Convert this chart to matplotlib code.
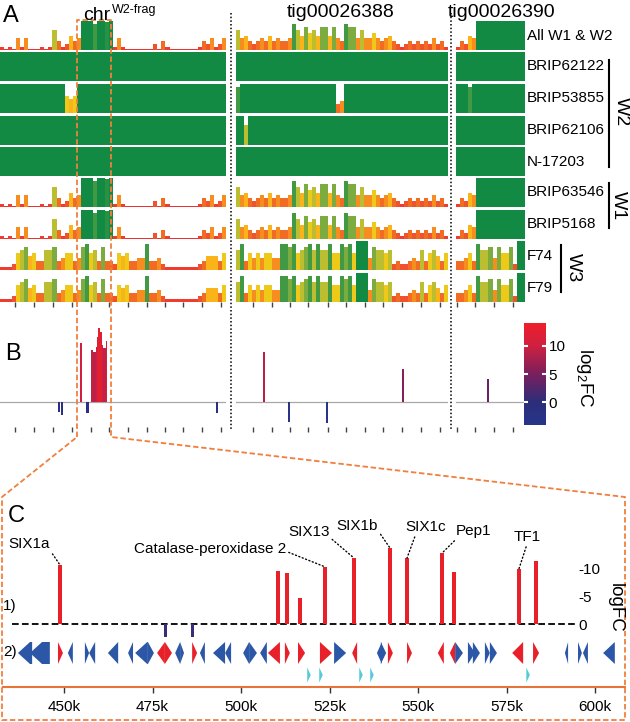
import numpy as np
import matplotlib
matplotlib.use('Agg')
import matplotlib.pyplot as plt
from matplotlib.colors import LinearSegmentedColormap, Normalize
from matplotlib.patches import Polygon
from matplotlib.colorbar import ColorbarBase

plt.rcParams['font.family'] = ['Liberation Sans', 'DejaVu Sans']
plt.rcParams['mathtext.fontset'] = 'custom'
plt.rcParams['mathtext.rm'] = 'Liberation Sans'

W, H = 630, 722

# ---------------- panel A: per-bin identity (0-10) ----------------
row_names = ['All W1 & W2', 'BRIP62122', 'BRIP53855', 'BRIP62106', 'N-17203',
             'BRIP63546', 'BRIP5168', 'F74', 'F79']
seg_names = ['chrW2-frag', 'tig00026388', 'tig00026390']
n_bins = [56, 53, 17]

# W1-like pattern (All W1 & W2, BRIP63546, BRIP5168)
w1_chr = [1, 0.5, 1, 0.5, 4, 1, 4, 0.5, 0.5, 0.5, 1, 0.5, 1, 7, 3, 1, 2, 5, 3, 4,
          10, 10, 10, 9, 10, 10, 9.5, 10,
          1, 4, 1, 0.5, 0.5, 0.5, 0.5, 0.5, 0.5, 0.5, 2, 0.5, 3, 1, 0.5, 0.5,
          0.5, 0.5, 0.5, 0.5, 0.5, 1, 3, 2, 4, 1, 2, 4]
w1_tig88 = [7, 4, 5, 3, 2, 3, 4, 3, 5, 3, 4, 3, 3, 4, 9, 7, 5, 8, 6, 7,
            5, 8, 8, 5, 8, 4, 3, 9, 8, 8, 4, 7, 4, 4, 6, 4, 3, 4, 5, 3,
            2, 1, 2, 3, 2, 3, 2, 3, 2, 4, 2, 3, 1]
w1_tig90 = [1, 3, 2, 5, 4, 10, 10, 10, 10, 10, 10, 10, 10, 10, 10, 10, 10]

# W3 pattern (F74, F79)
w3_chr = [1, 1, 1, 2, 6, 7, 8, 5, 6, 3, 3, 7, 7, 8, 3, 4, 6, 6, 3, 4,
          8, 9, 6, 7, 3, 8, 3, 3, 2, 6, 5, 6, 3, 3, 4, 4, 9, 3, 3, 4,
          2, 1, 1, 1, 1, 1, 1, 1, 1, 2, 3, 5, 5, 5, 3, 6]
w3_tig88 = [7, 9, 3, 6, 4, 6, 4, 6, 6, 4, 4, 9, 9, 8, 9, 6, 7, 8, 9, 7,
            9, 7, 7, 9, 6, 6, 9, 8, 9, 6, 10, 10, 10, 4, 8, 7, 7, 6, 7, 2,
            3, 2, 2, 3, 4, 3, 7, 3, 6, 7, 5, 3, 6]
w3_tig90 = [3, 3, 4, 6, 3, 9, 7, 7, 8, 4, 8, 6, 6, 8, 2, 10, 10]

# W2 isolates: full identity except these dips {bin: value}
dips_brip62122 = [{}, {}, {}]
dips_brip53855 = [{16: 6, 17: 5, 18: 6}, {0: 9, 25: 3, 26: 4}, {3: 9}]
dips_brip62106 = [{}, {2: 7}, {}]
dips_n17203 = [{}, {}, {}]

# tick marks (bin units) per segment
tick_chr = [3.7, 8.4, 13.1, 17.8, 22.5, 27.0, 31.7, 36.4, 40.8, 45.3, 50.0, 54.7]
tick_88 = [4.25, 9.0, 13.5, 18.0, 23.0, 27.5, 32.25, 36.75, 41.5, 46.25, 51.0]
tick_90 = [0.25, 4.7, 9.4, 14.0]

# ---------------- panel B: log2FC ----------------
fc_chr_pos = [14.62, 15.36, 20.07, 21.68, 22.80, 23.41, 23.91, 24.22, 24.59,
              25.03, 25.40, 25.89, 26.45, 53.77]
fc_chr_len = [0.3, 0.3, 0.37, 0.74, 0.5, 0.74, 0.25, 0.37, 0.37, 0.5, 0.25,
              0.74, 0.37, 0.3]
fc_chr_val = [-1.8, -2.3, 10.3, -2.0, 9.1, 8.8, 9.6, 11.4, 13.0, 12.3, 10.0,
              9.4, 10.7, -2.0]
fc_88_pos = [7.0, 13.25, 22.75, 41.75]
fc_88_val = [8.8, -3.5, -3.7, 5.8]
fc_90_pos = [7.9]
fc_90_val = [4.0]

# ---------------- panel C: zoom of chrW2-frag (kb) ----------------
c_bar_pos = [448.9, 478.8, 486.2, 510.5, 513.0, 516.7, 523.7, 531.9, 542.1,
             546.9, 556.8, 560.2, 578.5, 583.3]
c_bar_val = [10.7, -2.4, -2.4, 9.6, 9.3, 4.7, 10.4, 12.0, 13.8, 12.0, 12.9,
             9.5, 10.0, 11.5]
c_labels = ['SIX1a', 'Catalase-peroxidase 2', 'SIX13', 'SIX1b', 'SIX1c',
            'Pep1', 'TF1']
c_label_bar = [0, 6, 7, 8, 9, 10, 12]

gene_start = [437.0, 440.4, 448.3, 451.1, 455.9, 457.1, 462.4, 468.1, 470.1,
              473.7, 476.3, 478.5, 481.4, 482.8, 486.2, 488.4, 492.1, 495.5,
              500.6, 502.3, 505.4, 507.6, 512.4, 516.1, 522.3, 526.3, 531.4,
              538.4, 539.5, 541.5, 546.9, 555.6, 559.0, 560.5, 564.1, 565.5,
              568.9, 570.3, 576.6, 582.5, 591.5, 595.2, 596.6, 602.3]
gene_end = [441.0, 446.0, 449.7, 452.5, 457.1, 458.8, 465.3, 469.5, 473.7,
            475.4, 478.5, 480.5, 482.8, 483.9, 487.6, 489.8, 495.5, 497.2,
            502.3, 504.5, 507.3, 511.0, 513.8, 518.1, 525.7, 529.7, 532.8,
            539.8, 541.0, 542.9, 548.3, 557.3, 560.5, 562.7, 566.1, 567.5,
            570.3, 572.3, 579.7, 584.2, 592.4, 596.3, 598.0, 605.6]
gene_strand = [-1, -1, 1, -1, 1, -1, -1, -1, -1,
               1, -1, 1, -1, 1, 1, -1, -1, -1,
               -1, 1, -1, -1, 1, 1, 1, 1, -1,
               -1, 1, 1, 1, -1, -1, 1, 1, 1,
               1, 1, -1, 1, -1, 1, -1, -1]
gene_up = [0, 0, 1, 0, 0, 0, 0, 0, 0,
           0, 1, 1, 0, 0, 1, 0, 0, 0,
           0, 0, 0, 1, 1, 1, 1, 0, 1,
           0, 0, 1, 1, 1, 1, 0, 0, 0,
           0, 0, 1, 1, 0, 0, 0, 0]
te_pos = [519.2, 522.6, 533.9, 537.0, 581.1]
c_xticks = [450, 475, 500, 525, 550, 575, 600]

GREEN = '#128a43'
RED = '#e8202a'
BLUE = '#2c56a6'
ORANGE = '#f07f3c'

ident_cmap = LinearSegmentedColormap.from_list('ident', [
    (0.0, '#ee2a2e'), (0.15, '#ef4530'), (0.3, '#f26c22'), (0.42, '#f7941d'),
    (0.55, '#fbc616'), (0.65, '#e0cc1f'), (0.73, '#a8b73a'), (0.86, '#57a043'),
    (1.0, GREEN)])
fc_cmap = LinearSegmentedColormap.from_list('fc', [
    (0.0, '#27358a'), (0.22, '#2b2e7a'), (0.5, '#7a1f5e'), (0.78, '#cf2040'),
    (1.0, '#ee1f2a')])
fc_norm = Normalize(-4, 14)


def px_axes(fig, x0, y0, x1, y1, **kw):
    return fig.add_axes([x0 / W, 1 - y1 / H, (x1 - x0) / W, (y1 - y0) / H], **kw)


def clean(ax):
    for sp in ax.spines.values():
        sp.set_visible(False)
    ax.set_yticks([])
    ax.patch.set_alpha(0)


def full_row(dips):
    return [[d.get(i, 10) for i in range(n)] for d, n in zip(dips, n_bins)]


tracks = {
    'All W1 & W2': [w1_chr, w1_tig88, w1_tig90],
    'BRIP62122': full_row(dips_brip62122),
    'BRIP53855': full_row(dips_brip53855),
    'BRIP62106': full_row(dips_brip62106),
    'N-17203': full_row(dips_n17203),
    'BRIP63546': [w1_chr, w1_tig88, w1_tig90],
    'BRIP5168': [w1_chr, w1_tig88, w1_tig90],
    'F74': [w3_chr, w3_tig88, w3_tig90],
    'F79': [w3_chr, w3_tig88, w3_tig90],
}
seg_ticks = [tick_chr, tick_88, tick_90]
fc_pos = [fc_chr_pos, fc_88_pos, fc_90_pos]
fc_val = [fc_chr_val, fc_88_val, fc_90_val]
fc_len = [fc_chr_len, [0.3] * len(fc_88_pos), [0.3] * len(fc_90_pos)]

fig = plt.figure(figsize=(W / 100, H / 100), dpi=100)

seg_px = [(0, 226), (236, 448), (456, 525)]
row_top = [21, 52, 84, 116, 147, 178, 210, 241, 273]
row_h = 29

# panel A
for r, name in enumerate(row_names):
    for s, (x0, x1) in enumerate(seg_px):
        vals = np.array(tracks[name][s], dtype=float)
        ax = px_axes(fig, x0, row_top[r], x1, row_top[r] + row_h)
        ax.bar(np.arange(len(vals)), vals, width=1.0, align='edge',
               color=ident_cmap(vals / 10), linewidth=0)
        ax.set_xlim(0, n_bins[s])
        ax.set_ylim(0, 10)
        clean(ax)
        if r == len(row_names) - 1:
            ax.set_xticks(seg_ticks[s])
            ax.tick_params(axis='x', length=3.6, width=1, color='#444444',
                           labelbottom=False)
        else:
            ax.set_xticks([])

# panel B
for s, (x0, x1) in enumerate(seg_px):
    ax = px_axes(fig, x0, 322, x1, 427)
    v = np.array(fc_val[s])
    ax.axhline(0, color='#a8a8a8', lw=0.9, zorder=1)
    ax.bar(fc_pos[s], v, width=fc_len[s], color=fc_cmap(fc_norm(v)),
           linewidth=0, zorder=2)
    ax.set_xlim(0, n_bins[s])
    ax.set_ylim(-(427 - 402) / 5.7, (402 - 322) / 5.7)
    clean(ax)
    ax.set_xticks(seg_ticks[s])
    ax.tick_params(axis='x', length=3.6, width=1, color='#444444',
                   labelbottom=False)

ax_cb = px_axes(fig, 524, 323, 546, 425)
cb = ColorbarBase(ax_cb, cmap=fc_cmap, norm=fc_norm, ticks=[0, 5, 10])
cb.outline.set_visible(False)
ax_cb.yaxis.set_ticks_position('both')
ax_cb.tick_params(direction='in', color='white', length=3, width=1.5,
                  labelsize=11, pad=2, labelleft=False, labelright=True)

# panel C bars
c_x0, c_x1 = 450 + (12 - 64) / 3.54, 450 + (577 - 64) / 3.54
ax_c = px_axes(fig, 12, 515, 577, 640)
cv = np.array(c_bar_val)
ax_c.axhline(0, color='black', lw=1.3, dashes=(3.7, 1.8), zorder=1)
ax_c.bar(c_bar_pos, cv, width=np.where(cv > 0, 0.95, 0.85),
         color=np.where(cv > 0, RED, '#3a2d78'), linewidth=0, zorder=2)
ax_c.set_xlim(c_x0, c_x1)
ax_c.set_ylim(-(640 - 624) / 5.5, (624 - 515) / 5.5)
for sp in ax_c.spines.values():
    sp.set_visible(False)
ax_c.patch.set_alpha(0)
ax_c.set_xticks([])
ax_c.yaxis.tick_right()
ax_c.set_yticks([0, 5, 10])
ax_c.set_yticklabels(['0', '-5', '-10'])
ax_c.tick_params(axis='y', length=0, pad=1, labelsize=11)

label_xy = [(440.1, 14.5), (491.2, 13.6), (519.1, 16.7), (532.8, 17.8),
            (552.3, 17.6), (565.8, 16.9), (580.8, 15.8)]
label_rel = [(1, 0.1), (1, 0.35), (1, 0.15), (1, 0.2), (0.25, 0.05),
             (0.05, 0.05), (0.5, 0.0)]
for txt, bi, xy, rp in zip(c_labels, c_label_bar, label_xy, label_rel):
    ax_c.annotate(txt, xy=(c_bar_pos[bi], c_bar_val[bi]), xytext=xy,
                  ha='center', va='center', fontsize=11,
                  arrowprops=dict(arrowstyle='-', linestyle=(0, (0.8, 1.8)),
                                  lw=1.0, color='black', relpos=rp,
                                  shrinkA=0, shrinkB=0))

# panel C genes + axis
ax_g = px_axes(fig, 3, 632, 625, 687)
ax_g.set_xlim(450 + (3 - 64) / 3.54, 450 + (625 - 64) / 3.54)
ax_g.set_ylim(0, 1)
g_y, g_h = (687 - 653) / 55, 11 / 55
for s_, e_, st, up in zip(gene_start, gene_end, gene_strand, gene_up):
    hl = min(3.4, e_ - s_)
    if st > 0:
        pts = [(s_, g_y - g_h), (e_ - hl, g_y - g_h), (e_, g_y),
               (e_ - hl, g_y + g_h), (s_, g_y + g_h)]
    else:
        pts = [(e_, g_y - g_h), (s_ + hl, g_y - g_h), (s_, g_y),
               (s_ + hl, g_y + g_h), (e_, g_y + g_h)]
    ax_g.add_patch(Polygon(pts, closed=True, facecolor=RED if up else BLUE,
                           edgecolor='none'))
t_y, t_h = (687 - 675) / 55, 7.5 / 55
for p in te_pos:
    ax_g.add_patch(Polygon([(p - 0.5, t_y - t_h), (p + 0.5, t_y),
                            (p - 0.5, t_y + t_h)], closed=True,
                           facecolor='#55cbd5', edgecolor='none'))
for side in ['top', 'left', 'right']:
    ax_g.spines[side].set_visible(False)
ax_g.spines['bottom'].set_color('#e8743a')
ax_g.spines['bottom'].set_linewidth(1.5)
ax_g.patch.set_alpha(0)
ax_g.set_yticks([])
ax_g.set_xticks(c_xticks)
ax_g.set_xticklabels([f'{t}k' for t in c_xticks])
ax_g.tick_params(axis='x', length=4.3, width=1, color='#333333',
                 labelsize=11, pad=5)

# overlay: titles, labels, frames
ov = fig.add_axes([0, 0, 1, 1], zorder=10)
ov.set_xlim(0, W)
ov.set_ylim(H, 0)
ov.axis('off')

ov.text(3, 22, 'A', fontsize=17, va='baseline')
ov.text(5, 360, 'B', fontsize=17, va='baseline')
ov.text(8, 522, 'C', fontsize=17, va='baseline')
ov.text(83, 20, 'chr', fontsize=14, va='baseline')
ov.text(112, 12.5, 'W2-frag', fontsize=9, va='baseline')
ov.text(341, 17, seg_names[1], fontsize=14, ha='center', va='baseline')
ov.text(502, 17, seg_names[2], fontsize=14, ha='center', va='baseline')

for r, name in enumerate(row_names):
    ov.text(527, row_top[r] + row_h / 2, name, fontsize=11, va='center')

ov.plot([609, 609], [60, 167], color='black', lw=1.5)
ov.plot([609, 609], [183, 228], color='black', lw=1.5)
ov.plot([561, 561], [245, 292], color='black', lw=1.5)
ov.text(621, 112, 'W2', fontsize=14, rotation=-90, ha='center', va='center')
ov.text(618, 206, 'W1', fontsize=14, rotation=-90, ha='center', va='center')
ov.text(573, 268, 'W3', fontsize=14, rotation=-90, ha='center', va='center')

for xs in [231, 451]:
    ov.plot([xs, xs], [13, 430], color='black', lw=1.1, dashes=(1, 1.4))

ov.plot([77, 77, 111, 111, 625, 625, 2, 2, 77],
        [437, 20, 20, 437, 497, 720, 720, 497, 437],
        color=ORANGE, lw=1.3, dashes=(3, 1.5))

ov.text(585, 378, r'log$_\mathrm{2}$FC', fontsize=13.5, rotation=-90,
        ha='center', va='center')
ov.text(615, 608, 'logFC', fontsize=13.5, rotation=-90, ha='center', va='center')
ov.text(3, 606, '1)', fontsize=11, va='center')
ov.text(3, 652, '2)', fontsize=11, va='center')

fig.savefig('out.png', dpi=100)
